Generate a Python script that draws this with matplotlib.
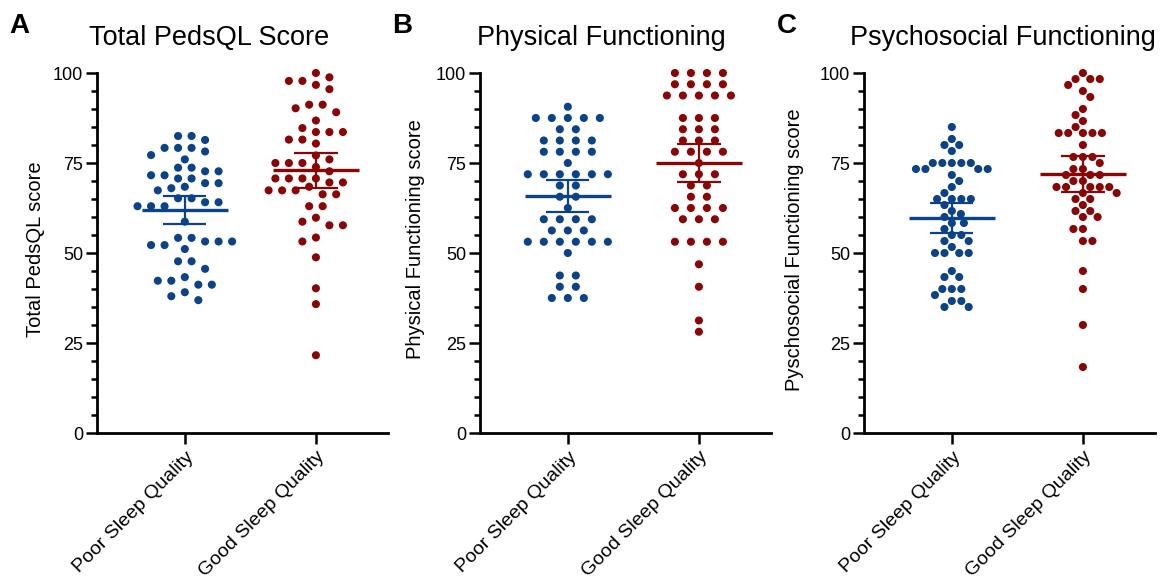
import numpy as np
import matplotlib
matplotlib.use('Agg')
from matplotlib import pyplot as plt

plt.rcParams['font.family'] = ['Liberation Sans', 'DejaVu Sans']

groups = ['Poor Sleep Quality', 'Good Sleep Quality']
titles = ['Total PedsQL Score', 'Physical Functioning', 'Psychosocial Functioning']
ylabels = ['Total PedsQL score', 'Physical Functioning score', 'Pyschosocial Functioning score']
letters = ['A', 'B', 'C']
colors = ['#0b4288', '#8a0505']

# values
total_poor = [82.5, 82.5, 81.4, 79.2, 79.2, 79.2, 78.2, 77.2, 76.0, 73.7, 73.7, 72.7, 72.7,
              71.6, 71.6, 70.7, 70.7, 69.4, 69.4, 68.4, 68.0, 67.4, 65.2, 65.2, 64.1, 64.1,
              63.0, 63.0, 63.0, 58.7, 54.2, 54.2, 53.2, 53.2, 53.2, 52.2, 52.2, 51.1, 47.7,
              47.7, 45.6, 43.3, 42.3, 42.3, 41.2, 41.2, 39.1, 38.0, 36.9]
total_good = [100.0, 98.8, 97.8, 97.8, 96.7, 95.5, 91.2, 91.2, 90.2, 89.1, 86.8, 84.7, 83.6,
              83.6, 83.6, 81.5, 81.5, 80.4, 77.1, 76.0, 75.0, 75.0, 75.0, 73.9, 72.7, 70.7,
              70.7, 70.7, 70.7, 69.6, 69.6, 68.4, 67.4, 67.4, 67.4, 66.3, 66.3, 63.0, 63.0,
              59.8, 58.7, 57.7, 57.7, 54.3, 53.2, 48.8, 40.2, 35.8, 21.6]

phys_poor = [90.625, 87.5, 87.5, 87.5, 87.5, 87.5, 84.375, 84.375, 81.25, 81.25, 81.25, 81.25,
             78.125, 78.125, 78.125, 78.125, 75.0, 71.875, 71.875, 71.875, 71.875, 71.875,
             71.875, 68.75, 68.75, 65.625, 65.625, 62.5, 59.375, 59.375, 59.375, 59.375,
             56.25, 56.25, 56.25, 53.125, 53.125, 53.125, 53.125, 53.125, 53.125, 50.0,
             43.75, 43.75, 40.625, 40.625, 37.5, 37.5, 37.5]
phys_good = [100.0, 100.0, 100.0, 100.0, 96.875, 96.875, 96.875, 96.875, 93.75, 93.75, 93.75,
             93.75, 93.75, 87.5, 87.5, 87.5, 84.375, 84.375, 84.375, 81.25, 81.25, 81.25,
             78.125, 78.125, 78.125, 78.125, 75.0, 71.875, 71.875, 71.875, 68.75, 68.75,
             65.625, 65.625, 62.5, 62.5, 62.5, 62.5, 59.375, 59.375, 59.375, 53.125, 53.125,
             53.125, 53.125, 46.875, 40.625, 31.25, 28.125]

psych_poor = [85.0, 81.67, 80.0, 80.0, 78.33, 75.0, 75.0, 75.0, 75.0, 75.0, 73.33, 73.33,
              73.33, 73.33, 71.67, 70.0, 68.33, 66.67, 65.0, 65.0, 65.0, 65.0, 63.33, 61.67,
              60.83, 60.0, 58.33, 58.33, 56.67, 55.0, 55.0, 53.33, 53.33, 51.67, 50.0, 50.0,
              50.0, 50.0, 45.0, 43.33, 43.33, 40.0, 40.0, 40.0, 38.33, 36.67, 36.67, 35.0, 35.0]
psych_good = [100.0, 98.33, 98.33, 98.33, 96.67, 95.0, 93.33, 90.0, 88.33, 86.67, 85.0, 83.33,
              83.33, 83.33, 83.33, 83.33, 80.0, 76.67, 76.67, 76.67, 75.0, 73.33, 73.33, 71.67,
              71.67, 71.67, 70.0, 70.0, 68.33, 68.33, 68.33, 68.33, 68.33, 66.67, 66.67, 65.0,
              65.0, 63.33, 61.67, 61.67, 60.0, 60.0, 56.67, 56.67, 53.33, 53.33, 45.0, 40.0,
              30.0, 18.33]

panels = [(total_poor, total_good), (phys_poor, phys_good), (psych_poor, psych_good)]

W, H = 1166, 582
axes_left = [97, 480, 864]
title_x = [209, 601, 1003]
letter_x = [9, 392, 777]
ylabel_pos = [(-0.18, 0.51), (-0.19, 0.54), (-0.205, 0.51)]
# dot spacing in a row / minimum centre distance (pixels) and layout mode, per panel
swarm_spacing = [13.5, 16.0, 9.5]
swarm_dist = [10.5, 11.0, 9.5]
swarm_rows = [True, True, False]
XLIM = (-0.67, 1.55)
PX_X = 131.0   # pixels per category
PX_Y = 3.6     # pixels per score point


def free(xs, y, placed, dist):
    return all((x - px) ** 2 + (y - py) ** 2 >= dist ** 2 - 1e-6
               for x in xs for px, py in placed)


def swarm_offsets(values, spacing, dist, rows=True):
    """Prism-like dot placement; rows=True keeps equal values together as centred rows."""
    vals = np.asarray(values, dtype=float)
    offsets = np.zeros(len(vals))
    placed = []
    side = 1
    if rows:
        for v in sorted(set(vals), reverse=True):
            idx = np.flatnonzero(vals == v)
            row = (np.arange(len(idx)) - (len(idx) - 1) / 2) * spacing
            y = v * PX_Y
            shifts = [0.0] + [s * k * spacing / 2 for k in range(1, 40) for s in (side, -side)]
            for shift in shifts:
                if free(row + shift, y, placed, dist):
                    break
            if shift != 0:
                side = -np.sign(shift)
            placed += [(x, y) for x in row + shift]
            offsets[idx] = row + shift
    else:
        for i in np.argsort(-vals, kind='stable'):
            y = vals[i] * PX_Y
            cands = [0.0]
            for px, py in placed:
                dy = abs(py - y)
                if dy < dist:
                    dx = np.sqrt(dist ** 2 - dy ** 2)
                    cands += [px - dx, px + dx]
            cands.sort(key=lambda c: (round(abs(c), 3), -side * np.sign(c)))
            for c in cands:
                if free([c], y, placed, dist):
                    break
            if c != 0:
                side = -np.sign(c)
            placed.append((c, y))
            offsets[i] = c
    return offsets / PX_X


fig = plt.figure(figsize=(W / 100, H / 100), dpi=100)

for k, (poor, good) in enumerate(panels):
    ax = fig.add_axes([axes_left[k] / W, 149 / H, 291 / W, 360 / H])
    for i, vals in enumerate([poor, good]):
        vals = np.asarray(vals)
        x = i + swarm_offsets(vals, swarm_spacing[k], swarm_dist[k], swarm_rows[k])
        ax.scatter(x, vals, s=34, color=colors[i], edgecolors='none', zorder=2, clip_on=False)
        mean = vals.mean()
        ci = 2.01 * vals.std(ddof=1) / np.sqrt(len(vals))
        ax.hlines(mean, i - 0.33, i + 0.33, color=colors[i], lw=2.4, zorder=3)
        ax.vlines(i, mean - ci, mean + ci, color=colors[i], lw=1.6, zorder=3)
        ax.hlines([mean - ci, mean + ci], i - 0.165, i + 0.165, color=colors[i], lw=1.6, zorder=3)

    ax.set_xlim(*XLIM)
    ax.set_ylim(0, 100)
    ax.spines[['top', 'right']].set_visible(False)
    for side in ['left', 'bottom']:
        ax.spines[side].set_linewidth(2)
    ax.set_yticks([0, 25, 50, 75, 100])
    ax.set_yticks(np.arange(0, 101, 5), minor=True)
    ax.tick_params(axis='y', which='major', length=8, width=1.8, labelsize=13, pad=2)
    ax.tick_params(axis='y', which='minor', length=4, width=1.8)
    ax.set_xticks([0, 1])
    ax.set_xticklabels(groups, rotation=45, ha='right', va='top', rotation_mode='anchor')
    ax.tick_params(axis='x', length=8, width=1.8, labelsize=14, pad=3)
    ax.set_ylabel(ylabels[k], fontsize=14.5)
    ax.yaxis.set_label_coords(*ylabel_pos[k])

    fig.text(title_x[k] / W, 1 - 45 / H, titles[k], fontsize=19.5, ha='center', va='baseline')
    fig.text(letter_x[k] / W, 1 - 33 / H, letters[k], fontsize=20, fontweight='bold',
             ha='left', va='baseline')

fig.savefig('out.png', dpi=100)
